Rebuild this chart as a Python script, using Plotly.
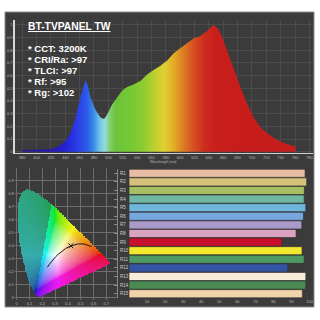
import numpy as np
import plotly.graph_objects as go

W = H = 320


def px(x):
    return x / W


def py(y):
    return 1 - y / H


# ---------------- data ----------------
spectrum_nm = [380, 400, 420, 431, 440, 447, 454, 461, 466, 468, 471, 475, 482, 489, 494,
               498, 505, 512, 519, 526, 535, 545, 554, 563, 572, 582, 591, 600, 609, 619,
               628, 637, 646, 653, 658, 665, 674, 684, 693, 702, 711, 721, 735, 748, 761]
spectrum_rel = [0.013, 0.015, 0.02, 0.04, 0.08, 0.145, 0.26, 0.43, 0.54, 0.566, 0.53, 0.43,
                0.33, 0.27, 0.258, 0.29, 0.37, 0.43, 0.48, 0.51, 0.53, 0.56, 0.61, 0.645,
                0.676, 0.72, 0.776, 0.816, 0.855, 0.895, 0.913, 0.95, 1.0, 0.97, 0.91, 0.80,
                0.66, 0.51, 0.38, 0.276, 0.197, 0.145, 0.092, 0.06, 0.04]
spectrum_ticks = list(range(380, 781, 20))
rel_ticks = [round(0.1 * i, 1) for i in range(11)]

title_text = "BT-TVPANEL TW"
note_lines = ["* CCT: 3200K", "* CRI/Ra: >97", "* TLCI: >97", "* Rf: >95", "* Rg: >102"]

# CIE 1931 spectral locus
locus_x = [0.1741, 0.1733, 0.1726, 0.1714, 0.1689, 0.1644, 0.1566, 0.1440, 0.1241, 0.1096,
           0.0913, 0.0687, 0.0454, 0.0235, 0.0082, 0.0039, 0.0139, 0.0389, 0.0743, 0.1142,
           0.1547, 0.2296, 0.3016, 0.3731, 0.4441, 0.5125, 0.5752, 0.6270, 0.6658, 0.6915,
           0.7079, 0.7190, 0.7260, 0.7300, 0.7334, 0.7347]
locus_y = [0.0050, 0.0048, 0.0048, 0.0051, 0.0069, 0.0109, 0.0177, 0.0297, 0.0578, 0.0868,
           0.1327, 0.2007, 0.2950, 0.4127, 0.5384, 0.6548, 0.7502, 0.8120, 0.8338, 0.8262,
           0.8059, 0.7543, 0.6923, 0.6245, 0.5547, 0.4866, 0.4242, 0.3725, 0.3340, 0.3083,
           0.2920, 0.2809, 0.2740, 0.2700, 0.2666, 0.2653]
# Planckian locus (1500 K ... infinity)
planck_x = [0.5857, 0.5491, 0.5267, 0.4770, 0.4369, 0.4053, 0.3805, 0.3451, 0.3221, 0.3064,
            0.2952, 0.2807, 0.2637, 0.2565, 0.2399]
planck_y = [0.3931, 0.4086, 0.4133, 0.4137, 0.4041, 0.3907, 0.3768, 0.3516, 0.3318, 0.3166,
            0.3048, 0.2884, 0.2674, 0.2577, 0.2342]
point_x = [0.4234]
point_y = [0.3990]
cie_xticks = [round(0.1 * i, 1) for i in range(8)]
cie_yticks = [round(0.1 * i, 1) for i in range(10)]

cri_labels = ["R1", "R2", "R3", "R4", "R5", "R6", "R7", "R8", "R9", "R10", "R11", "R12",
              "R13", "R14", "R15"]
cri_values = [97.5, 98.4, 97.1, 97.0, 97.9, 96.6, 95.7, 92.5, 84.6, 95.8, 97.0, 87.9,
              97.9, 97.9, 96.0]
cri_colors = ["#e8bba2", "#d6c27c", "#a6bf62", "#6fb7a2", "#6fb6dc", "#78a6df", "#a99ac9",
              "#d9a3c1", "#c8102e", "#f2e82e", "#4f9a62", "#3353a3", "#f8ecda", "#4a8a52",
              "#f1d3ab"]
cri_ticks = list(range(10, 101, 10))

# ---------------- styles ----------------
FONT = "Liberation Sans"
BG = "#3b3b3b"
spec_scale_nm = [380, 420, 440, 455, 470, 480, 488, 495, 502, 510, 530, 550, 565, 578, 590,
                 605, 620, 635, 650, 780]
spec_scale_col = ["#2a1a8a", "#2418b0", "#2222d0", "#2a3ae6", "#2c5ae8", "#3c8ee6", "#70c4ea",
                  "#96dcdc", "#80d070", "#6cc43c", "#74c834", "#90cc30", "#c0d030", "#e0d030",
                  "#e4b028", "#dc7a22", "#d44c20", "#cc2a1e", "#c81e1c", "#c41c1c"]
spec_scale = [[(n - 380) / 400, c] for n, c in zip(spec_scale_nm, spec_scale_col)]

# ---------------- CIE colour image ----------------
xr = (-0.013, 0.792)
yr = (-0.018, 0.998)
res = 0.005
gx = np.arange(xr[0], xr[1], res)
gy = np.arange(yr[0], yr[1], res)
X, Y = np.meshgrid(gx, gy)
poly = np.column_stack([locus_x, locus_y])
inside = np.zeros(X.shape, dtype=bool)
n = len(poly)
j = n - 1
for i in range(n):
    xi, yi = poly[i]
    xj, yj = poly[j]
    cond = ((yi > Y) != (yj > Y)) & (X < (xj - xi) * (Y - yi) / (yj - yi + 1e-12) + xi)
    inside ^= cond
    j = i
Ys = np.maximum(Y, 1e-4)
XYZ = np.stack([X / Ys, np.ones_like(X), (1 - X - Y) / Ys], axis=-1)
M = np.array([[3.2406, -1.5372, -0.4986], [-0.9689, 1.8758, 0.0415], [0.0557, -0.2040, 1.0570]])
rgb = XYZ @ M.T
rgb = rgb - np.minimum(rgb.min(axis=-1, keepdims=True), 0)
rgb = rgb / np.maximum(rgb.max(axis=-1, keepdims=True), 1e-9)
rgb = np.where(rgb <= 0.0031308, 12.92 * rgb, 1.055 * np.power(rgb, 1 / 2.4) - 0.055)
# soften overall saturation slightly
rgb = 0.85 * rgb + 0.15 * rgb.mean(axis=-1, keepdims=True)
# muted region outside the left gamut edge
g_pt = (0.265, 0.69)
b_pt = (0.15, 0.06)
side = (g_pt[0] - b_pt[0]) * (Y - b_pt[1]) - (g_pt[1] - b_pt[1]) * (X - b_pt[0])
muted = side > 0
gray = rgb.mean(axis=-1, keepdims=True)
rgb_m = (0.7 * rgb + 0.3 * gray) * 0.78
rgb = np.where(muted[..., None], rgb_m, rgb)
rgba = np.zeros(X.shape + (4,))
rgba[..., :3] = np.round(rgb * 255)
rgba[..., 3] = inside.astype(float)

fig = go.Figure()

fig.add_shape(type="rect", xref="paper", yref="paper", x0=px(5), x1=px(314), y0=py(307),
              y1=py(12), fillcolor=BG, line=dict(color="#8c8c8c", width=1), layer="below")

# spectrum
fig.add_trace(go.Scatter(
    x=spectrum_nm, y=spectrum_rel, mode="lines", line=dict(width=0, color="rgba(0,0,0,0)"),
    fill="tozeroy",
    fillgradient=dict(type="horizontal", colorscale=spec_scale, start=380, stop=780),
    xaxis="x", yaxis="y", hoverinfo="skip", showlegend=False))

# CIE
fig.add_trace(go.Image(z=rgba.tolist(), colormodel="rgba", x0=gx[0], dx=res, y0=gy[0], dy=res,
                       xaxis="x2", yaxis="y2", hoverinfo="skip"))
fig.add_trace(go.Scatter(x=planck_x, y=planck_y, mode="lines", line=dict(color="#1a1a1a", width=1),
                         xaxis="x2", yaxis="y2", hoverinfo="skip", showlegend=False))
fig.add_trace(go.Scatter(x=point_x, y=point_y, mode="markers",
                         marker=dict(symbol="x-thin", size=5, line=dict(color="#1a1a1a", width=1)),
                         xaxis="x2", yaxis="y2", hoverinfo="skip", showlegend=False))

# CRI bars
fig.add_trace(go.Bar(x=cri_values, y=cri_labels, orientation="h",
                     marker=dict(color=cri_colors, line=dict(color="#2e2e2e", width=0.6)),
                     xaxis="x3", yaxis="y3", hoverinfo="skip", showlegend=False))

tick_font = dict(family=FONT, size=4, color="#b8b8b8")

fig.update_layout(
    width=W, height=H, autosize=False,
    margin=dict(l=0, r=0, t=0, b=0, pad=0),
    paper_bgcolor="white", plot_bgcolor="rgba(0,0,0,0)",
    showlegend=False, bargap=0.06,
    xaxis=dict(domain=[px(15), px(313)], range=[370, 785], tickvals=spectrum_ticks,
               tickfont=tick_font, showgrid=True, gridcolor="#4b4b4b", gridwidth=0.6,
               zeroline=False, showline=True, linecolor="#d0d0d0", linewidth=1, ticks="",
               anchor="y", fixedrange=True),
    yaxis=dict(domain=[py(153), py(20)], range=[-0.0103, 1.039], tickvals=rel_ticks,
               ticktext=[f"{v:g}" for v in rel_ticks], tickfont=tick_font, showgrid=True,
               gridcolor="#4b4b4b", gridwidth=0.6, zeroline=False, showline=True,
               linecolor="#d8d8d8", linewidth=1.5, ticks="", anchor="x"),
    xaxis2=dict(domain=[px(15), px(118)], range=list(xr), tickvals=cie_xticks,
                ticktext=[f"{v:g}" for v in cie_xticks], tickfont=tick_font, showgrid=True,
                gridcolor="#6e6e6e", gridwidth=0.6, zeroline=False, showline=False, ticks="",
                anchor="y2"),
    yaxis2=dict(domain=[py(300), py(168)], range=list(yr), tickvals=cie_yticks,
                ticktext=[f"{v:g}" for v in cie_yticks], tickfont=tick_font, showgrid=True,
                gridcolor="#6e6e6e", gridwidth=0.6, zeroline=False, showline=False, ticks="",
                anchor="x2", scaleanchor=False),
    xaxis3=dict(domain=[px(118), px(313)], range=[-6.1, 101.9], tickvals=cri_ticks,
                tickfont=tick_font, showgrid=False, zeroline=False, showline=False, ticks="",
                anchor="y3"),
    yaxis3=dict(domain=[py(298), py(169)], type="category", categoryorder="array",
                categoryarray=cri_labels, range=[14.5, -0.5], ticklabelposition="inside",
                tickfont=dict(family=FONT, size=4.5, color="#d0d0d0"), showgrid=False,
                zeroline=False, showline=True, linecolor="#8a8a8a", linewidth=1,
                ticks="outside", ticklen=3, tickcolor="#8a8a8a", anchor="x3"),
)

TXT = 9.5
annos = [dict(text="<u>" + title_text + "</u>", x=px(26), y=py(27), xref="paper", yref="paper",
              xanchor="left", yanchor="middle", showarrow=False,
              font=dict(family=FONT, size=10.3, color="white", weight="bold"))]
for k, line in enumerate(note_lines):
    annos.append(dict(text=line, x=px(26), y=py(49 + 10.9 * k), xref="paper", yref="paper",
                      xanchor="left", yanchor="middle", showarrow=False,
                      font=dict(family=FONT, size=TXT, color="white", weight="bold")))
annos.append(dict(text="Wavelength (nm)", x=px(163), y=py(161.5), xref="paper", yref="paper",
                  xanchor="center", yanchor="middle", showarrow=False,
                  font=dict(family=FONT, size=3.5, color="#b8b8b8")))
fig.update_layout(annotations=annos)

fig.write_html("out.html")
